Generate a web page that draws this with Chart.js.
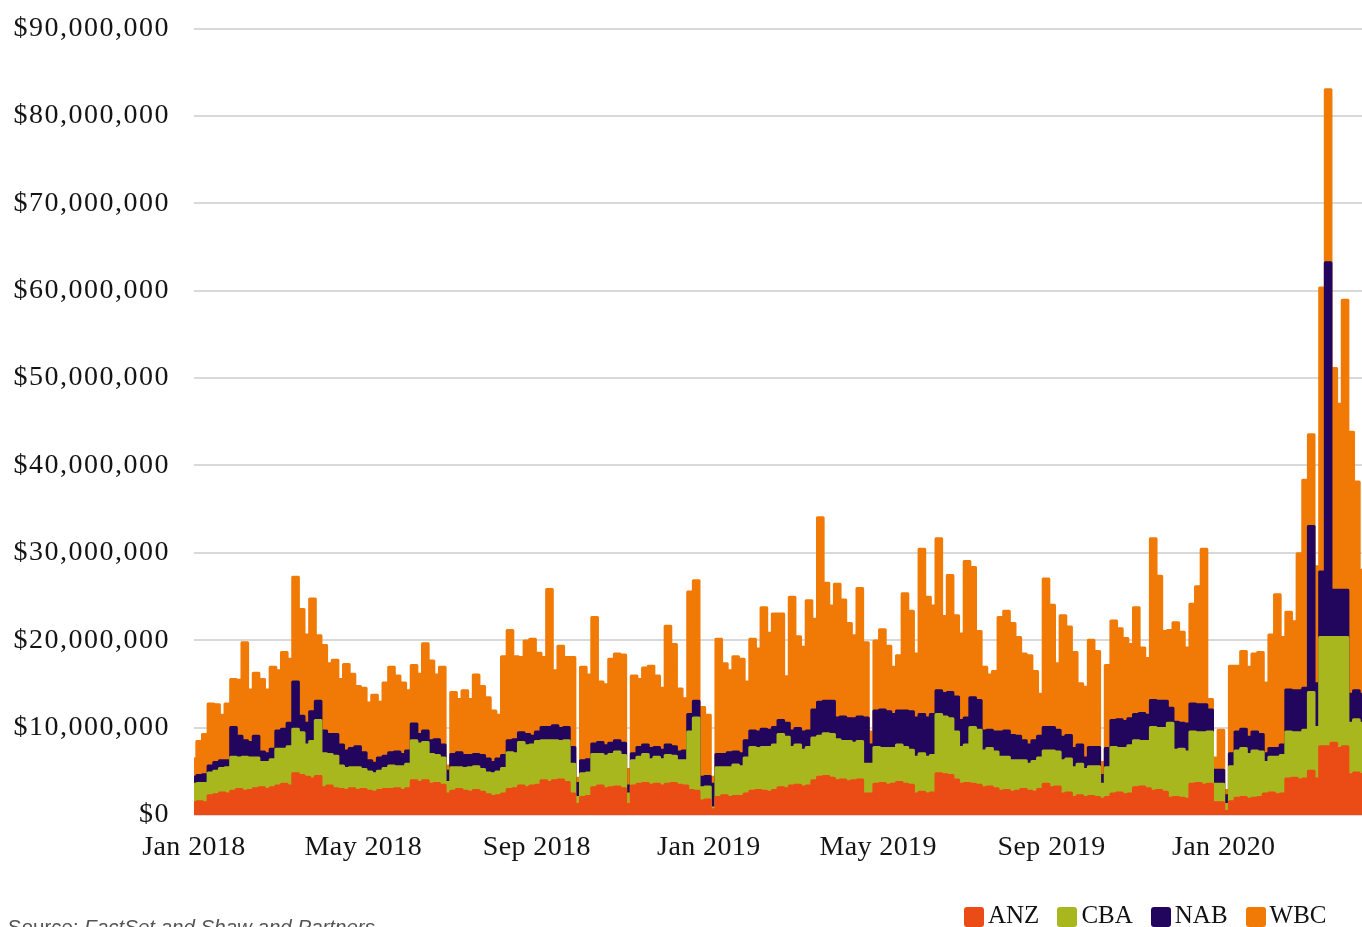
<!DOCTYPE html>
<html>
<head>
<meta charset="utf-8">
<script src="https://cdn.jsdelivr.net/npm/chart.js@4.4.1/dist/chart.umd.min.js"></script>
<style>
  html, body { margin: 0; padding: 0; background: #ffffff; overflow: hidden; width: 1362px; height: 927px; }
  #wrap { position: absolute; left: 0; top: 0; width: 1362px; height: 927px; }
  #legend { position: absolute; left: 964px; top: 902px; display: flex; font-family: "Liberation Serif", "Times New Roman", serif; font-size: 25px; line-height: 25px; color: #111; white-space: nowrap; }
  .item { display: flex; align-items: flex-start; margin-right: 18px; }
  .sw { width: 20px; height: 20px; border-radius: 3px; margin-top: 5px; margin-right: 4px; }
  #source { position: absolute; left: 8px; top: 917px; font-family: "Liberation Sans", Arial, sans-serif; font-size: 20.5px; line-height: 20px; color: #555; white-space: nowrap; }
  #source i { font-style: italic; }
</style>
</head>
<body>
<div id="wrap"><canvas id="c" width="1362" height="927"></canvas></div>
<div id="legend"></div>
<div id="source">Source: <i>FactSet and Shaw and Partners</i></div>
<script>
// Daily turnover ($ millions), sampled every 4 calendar days from 1 Jan 2018
const DAY_STEP = 4;
const seriesNames = ['ANZ', 'CBA', 'NAB', 'WBC'];
const seriesColors = ['#EB4B14', '#A8B71E', '#22065E', '#F07A05'];

const anz = [
  1.4,1.5,1.4,2.2,2.3,2.5,2.4,2.7,2.9,2.7,
  2.8,3.0,3.1,2.9,3.1,3.3,3.5,3.3,4.7,4.5,
  4.3,4.1,4.4,3.1,3.3,3.0,2.9,2.8,3.0,2.8,
  2.9,2.7,2.6,2.8,2.9,2.9,3.0,2.8,3.0,3.9,
  3.7,3.9,3.5,3.6,3.4,2.4,2.7,2.9,2.7,2.6,
  2.8,2.6,2.3,2.1,2.2,2.4,2.9,3.0,3.3,3.1,
  3.3,3.4,3.9,3.7,3.9,4.0,3.7,2.4,1.2,2.0,
  2.1,3.1,3.3,3.0,3.1,3.2,3.0,1.2,3.3,3.5,
  3.6,3.4,3.5,3.3,3.5,3.6,3.4,3.3,2.8,2.7,
  1.6,1.7,0.6,2.0,2.2,2.0,2.1,2.1,2.4,2.7,
  2.8,2.7,2.6,2.8,3.1,3.0,3.3,3.4,3.2,3.3,
  3.9,4.3,4.4,4.2,3.9,4.0,3.8,3.9,4.0,2.4,
  2.4,3.5,3.6,3.4,3.5,3.7,3.5,3.4,2.4,2.6,
  2.4,2.5,4.7,4.6,4.5,4.0,3.5,3.6,3.5,3.4,
  3.1,3.2,3.0,2.7,2.8,2.6,2.7,2.9,2.7,2.6,
  2.9,3.5,3.1,3.2,2.4,2.5,2.0,2.2,2.0,2.1,
  2.0,1.8,2.0,2.4,2.5,2.3,2.4,3.1,3.2,3.0,
  2.7,2.8,2.6,1.9,2.0,1.9,1.8,3.5,3.6,3.4,
  3.5,1.4,1.4,0.4,1.5,1.9,2.0,1.8,1.9,2.0,
  2.4,2.5,2.3,2.4,4.1,4.2,4.0,4.1,5.0,4.1,
  7.8,7.8,8.2,7.6,7.8,4.6,4.8,4.6
];
const cba = [
  2.1,2.1,2.2,2.6,2.7,2.8,3.0,3.9,3.6,3.9,
  3.7,3.5,2.9,3.1,3.2,4.2,4.0,4.5,5.1,4.9,
  3.7,4.3,6.4,3.9,3.6,3.7,2.7,2.5,2.4,2.6,
  2.3,2.2,2.1,2.2,2.4,2.7,2.5,2.7,2.8,4.6,
  4.4,4.4,3.4,3.2,3.1,1.3,2.7,2.5,2.6,2.8,
  2.7,2.6,2.5,2.6,2.7,2.9,4.2,4.0,5.0,4.8,
  4.7,5.0,4.6,4.8,4.6,4.4,4.8,3.4,0.8,2.7,
  2.7,3.8,3.6,3.7,3.8,4.0,3.8,1.2,2.9,3.1,
  3.3,2.9,3.1,3.0,3.3,3.1,2.8,2.9,6.7,8.4,
  1.5,1.5,0.2,3.4,3.2,3.4,3.6,3.4,4.1,5.0,
  4.8,5.0,5.1,5.2,6.1,5.9,4.4,4.6,4.2,4.4,
  4.9,4.7,4.9,5.0,4.7,4.4,4.6,4.3,4.4,3.4,
  3.4,4.2,4.0,4.2,4.1,4.3,4.2,4.0,4.2,4.4,
  4.2,4.3,6.8,6.6,6.5,5.5,4.2,4.4,6.5,6.3,
  4.2,4.4,4.2,3.9,3.8,3.6,3.5,3.3,3.1,3.5,
  3.6,3.8,4.2,4.0,3.8,3.9,3.4,3.6,3.2,3.4,
  3.5,1.7,3.4,5.3,5.1,5.3,5.5,5.4,5.2,5.4,
  7.3,7.1,7.3,8.6,5.4,5.6,5.4,6.0,5.8,6.0,
  6.0,2.1,2.1,0.8,4.0,5.4,5.6,5.1,5.4,5.2,
  3.6,4.1,4.3,4.4,5.4,5.2,5.4,5.6,9.0,5.9,
  12.5,12.5,12.1,12.7,12.5,5.9,6.1,5.9
];
const nab = [
  0.8,0.9,1.0,0.8,1.0,0.9,0.8,3.4,2.5,1.9,
  1.8,2.5,1.2,1.0,1.2,2.1,2.3,2.7,5.4,1.9,
  2.5,3.4,2.2,2.6,2.3,2.5,2.4,2.0,2.2,2.4,
  1.9,1.3,1.2,1.5,1.4,1.5,1.7,1.4,1.5,1.9,
  1.1,1.3,1.6,1.8,1.5,1.3,1.5,1.7,1.5,1.4,
  1.4,1.6,1.6,1.3,1.5,1.5,1.4,1.6,1.1,1.3,
  1.0,1.1,1.5,1.5,1.7,1.5,1.5,1.9,1.6,1.5,
  1.5,1.2,1.4,1.2,1.3,1.3,1.4,0.9,0.8,1.1,
  1.1,1.3,1.1,1.1,1.2,1.1,1.0,1.1,2.0,1.9,
  1.2,1.2,2.7,1.5,1.5,1.7,1.5,1.5,2.0,1.9,
  1.9,2.1,2.0,2.0,1.6,1.6,1.9,1.9,2.1,1.9,
  3.2,3.9,3.7,3.8,2.5,2.8,2.6,2.8,2.8,5.3,
  2.2,4.2,4.4,4.2,3.9,3.9,4.2,4.4,4.5,4.5,
  4.5,4.7,2.7,2.7,3.0,4.0,3.1,3.1,3.4,3.4,
  2.3,2.1,2.3,2.9,3.0,2.9,2.8,2.3,2.2,2.4,
  2.5,2.7,2.7,2.5,2.7,2.7,2.2,2.2,1.3,2.2,
  2.2,1.0,2.2,3.1,3.3,3.1,3.1,3.0,3.2,3.0,
  3.1,3.1,3.1,1.7,3.2,3.0,3.2,3.2,3.2,3.2,
  2.5,1.6,1.6,1.0,1.5,2.2,2.2,2.0,2.2,2.0,
  1.0,1.0,1.0,1.2,4.8,4.8,4.8,4.8,19.0,5.0,
  7.5,42.9,5.4,5.4,5.4,3.3,3.3,3.3
];
const wbc = [
  2.1,3.9,4.6,7.1,6.6,5.2,6.5,5.5,6.4,11.2,
  6.0,7.2,8.3,7.3,9.4,6.9,8.8,7.3,12.0,12.2,
  10.1,12.9,7.5,9.8,8.1,8.5,7.5,9.9,8.5,6.9,
  7.4,6.6,7.8,6.4,8.4,9.8,8.7,8.2,6.9,6.7,
  6.9,10.0,9.1,7.4,8.9,0.6,7.1,6.1,7.4,6.4,
  9.1,7.9,7.0,5.9,5.0,11.3,12.6,9.5,8.6,10.7,
  11.1,9.0,8.0,15.8,6.3,9.4,8.0,10.3,0.6,10.7,
  9.7,14.5,6.9,7.0,9.6,9.9,10.1,1.9,8.9,7.8,
  8.8,9.4,8.2,7.1,13.6,11.7,7.2,6.0,14.0,13.8,
  8.0,7.0,0.8,13.2,10.4,9.4,10.9,10.8,6.7,10.5,
  9.5,13.9,11.1,13.0,12.2,5.3,15.3,10.5,9.7,14.9,
  10.4,21.1,13.5,10.9,15.3,13.4,10.9,9.5,14.7,8.6,
  1.5,8.0,9.2,7.5,5.4,6.3,13.4,11.5,7.3,18.9,
  13.8,12.4,17.4,8.8,13.4,9.3,9.9,17.9,14.9,7.9,
  7.3,6.3,6.9,13.1,13.7,12.8,11.3,9.9,10.2,7.9,
  4.8,17.0,14.0,7.6,13.9,12.4,11.0,7.0,8.1,12.3,
  11.0,1.5,9.5,11.4,10.4,9.5,8.5,12.2,7.5,6.5,
  18.5,14.3,8.0,8.9,11.4,10.4,8.7,11.4,13.5,17.8,
  1.2,1.4,4.6,0.6,10.0,7.5,8.9,8.0,8.9,9.4,
  8.1,13.0,17.6,12.3,8.9,7.9,15.7,23.8,10.5,13.4,
  32.5,19.8,25.4,21.3,33.2,30.0,23.9,14.2
];

// x-axis tick positions (days since 1 Jan 2018) and labels
const tickDays = [0, 120, 243, 365, 485, 608, 730];
const tickLabels = ['Jan 2018', 'May 2018', 'Sep 2018', 'Jan 2019', 'May 2019', 'Sep 2019', 'Jan 2020'];
const yTickValues = [0, 10, 20, 30, 40, 50, 60, 70, 80, 90];

const days = anz.map((_, i) => i * DAY_STEP);
const toPoints = arr => arr.map((v, i) => ({ x: days[i], y: v }));
const allSeries = [anz, cba, nab, wbc];

const serif = '"Liberation Serif", "Times New Roman", serif';

const datasets = allSeries.map((arr, k) => ({
  label: seriesNames[k],
  data: toPoints(arr),
  backgroundColor: seriesColors[k],
  borderColor: seriesColors[k],
  borderWidth: 3,
  borderJoinStyle: 'round',
  borderCapStyle: 'round',
  pointRadius: 0,
  pointHoverRadius: 0,
  stepped: 'middle',
  fill: k === 0 ? 'origin' : '-1'
}));

const chart = new Chart(document.getElementById('c'), {
  type: 'line',
  data: { datasets },
  options: {
    responsive: false,
    devicePixelRatio: 1,
    animation: false,
    events: [],
    layout: { padding: { top: 28.5, right: 0, bottom: 46.5, left: 0 } },
    plugins: { legend: { display: false }, tooltip: { enabled: false } },
    scales: {
      x: {
        type: 'linear',
        min: 0,
        max: days[days.length - 1],
        grid: { display: false, drawTicks: false },
        border: { display: false },
        afterBuildTicks: axis => { axis.ticks = tickDays.map(v => ({ value: v })); },
        ticks: {
          autoSkip: false,
          maxRotation: 0,
          padding: 16,
          color: '#141414',
          font: { family: serif, size: 28 },
          callback: (v, i) => tickLabels[i]
        }
      },
      y: {
        stacked: true,
        min: 0,
        max: 90,
        afterFit: axis => { axis.width = 194; axis.paddingTop = 0; axis.paddingBottom = 0; },
        afterBuildTicks: axis => { axis.ticks = yTickValues.map(v => ({ value: v })); },
        grid: { color: '#d9d9d9', lineWidth: 2, drawTicks: false },
        border: { display: false },
        ticks: {
          padding: 24,
          color: '#141414',
          font: { family: serif, size: 28 },
          callback: v => '$' + Math.round(v * 1e6).toLocaleString('en-US')
        }
      }
    }
  }
});

// Slightly wider letter spacing on the axis labels, closer to the original typeface
function widenLabels(scale, spacing) {
  const orig = scale.drawLabels.bind(scale);
  scale.drawLabels = function (area) {
    const ctx = this.ctx;
    const prev = ctx.letterSpacing;
    try { ctx.letterSpacing = spacing; } catch (e) {}
    orig(area);
    try { ctx.letterSpacing = prev || '0px'; } catch (e) {}
  };
}
widenLabels(chart.scales.y, '1.5px');
widenLabels(chart.scales.x, '0.4px');
chart.draw();

// Legend (HTML, real text)
const legend = document.getElementById('legend');
seriesNames.forEach((name, k) => {
  const item = document.createElement('div');
  item.className = 'item';
  const sw = document.createElement('span');
  sw.className = 'sw';
  sw.style.background = seriesColors[k];
  const tx = document.createElement('span');
  tx.textContent = name;
  item.appendChild(sw);
  item.appendChild(tx);
  legend.appendChild(item);
});
</script>
</body>
</html>
